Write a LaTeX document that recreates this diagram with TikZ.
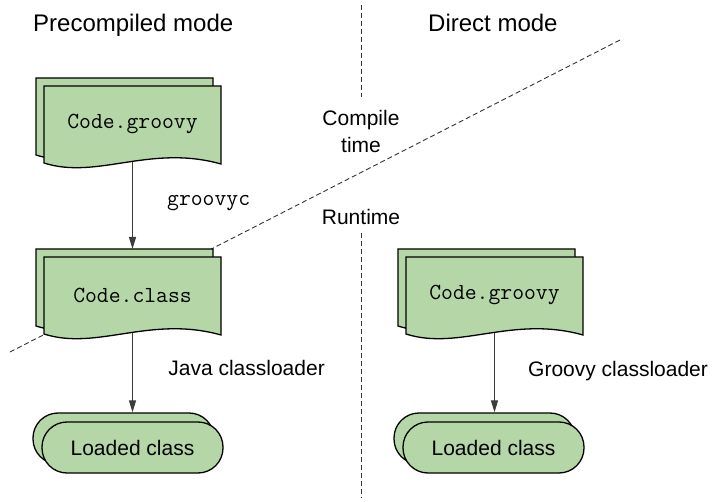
\documentclass[tikz,border=0pt]{standalone}
\usepackage{fontspec}
\setmainfont{Liberation Sans}
\usetikzlibrary{arrows.meta}

\definecolor{sheetgreen}{RGB}{181,214,167}
\definecolor{flowgray}{RGB}{60,60,60}

\tikzset{
	sheet/.style={draw=black, line width=1.3pt, fill=sheetgreen},
	doctext/.style={minimum width=177pt, minimum height=76pt, inner sep=0pt, font=\fontsize{23}{27}\selectfont\ttfamily},
	loadedbox/.style={draw=black, line width=1.3pt, fill=sheetgreen, rounded corners=25pt, minimum width=181pt, minimum height=51pt, inner sep=0pt, font=\fontsize{21}{25}\selectfont},
	flow/.style={draw=flowgray, line width=1.2pt, -{Triangle[length=12pt,width=7pt]}},
	divider/.style={draw=black!80, line width=0.9pt, dash pattern=on 5pt off 3pt},
	note/.style={font=\fontsize{21}{27}\selectfont, inner sep=0pt},
	header/.style={font=\fontsize{24}{28}\selectfont, inner sep=0pt}
}

% stacked source sheets: name, top left of front sheet, text
\newcommand{\docstack}[3]{%
	\begin{scope}[shift={#2}]
		\path[sheet] (-8,-8) -- (169,-8) -- (169,70) .. controls (98,50) and (45,86) .. (-8,69) -- cycle;
		\path[sheet] (0,0) -- (177,0) -- (177,78) .. controls (106,58) and (53,94) .. (0,77) -- cycle;
		\node[doctext] (#1) at (88.5,38) {#3};
		\coordinate (#1-back) at (88.5,-8);
	\end{scope}}

\begin{document}
\begin{tikzpicture}[x=1pt,y=-1pt]
	\useasboundingbox (0,0) rectangle (712,502);
	
	\node[header, anchor=base west] (precomp) at (33,32) {Precompiled mode};
	\node[header, anchor=base west] (direct) at (428,32) {Direct mode};
	
	\node[note, align=center, inner ysep=13pt] (compile) at (361,131.5) {Compile\\time};
	\node[note, anchor=base, inner ysep=8pt] (runtime) at (361,224.5) {Runtime};
	
	\coordinate (divtop) at (361,5);
	\coordinate (divbot) at (361,498);
	\draw[divider] (divtop) -- (compile.north);
	\draw[divider] (runtime.south) -- (divbot);
	
	\coordinate (splitlow) at (10,352);
	\coordinate (splithigh) at (620,40);
	\draw[divider] (splitlow) -- (splithigh);
	
	\docstack{groovysrc}{(44,86)}{Code.groovy}
	\docstack{classfile}{(44,257)}{Code.class}
	\docstack{directsrc}{(406,257)}{Code.groovy}
	
	\node[loadedbox] (loadedpreback) at (123.5,438.5) {};
	\node[loadedbox] (loadedpre) at (132.5,447.5) {Loaded class};
	\node[loadedbox] (loadeddirback) at (484.5,438.5) {};
	\node[loadedbox] (loadeddir) at (493.5,447.5) {Loaded class};
	
	\draw[flow] (groovysrc.south) -- (classfile-back);
	\draw[flow] (classfile.south) -- (classfile.south |- loadedpreback.north);
	\draw[flow] (directsrc.south) -- (directsrc.south |- loadeddirback.north);
	
	\node[note, anchor=base west, font=\fontsize{23}{27}\selectfont\ttfamily] (groovyc) at (167,206) {groovyc};
	\node[note, anchor=base east] (javacl) at (325,376) {Java classloader};
	\node[note, anchor=base west] (groovycl) at (528,377) {Groovy classloader};
\end{tikzpicture}
\end{document}
